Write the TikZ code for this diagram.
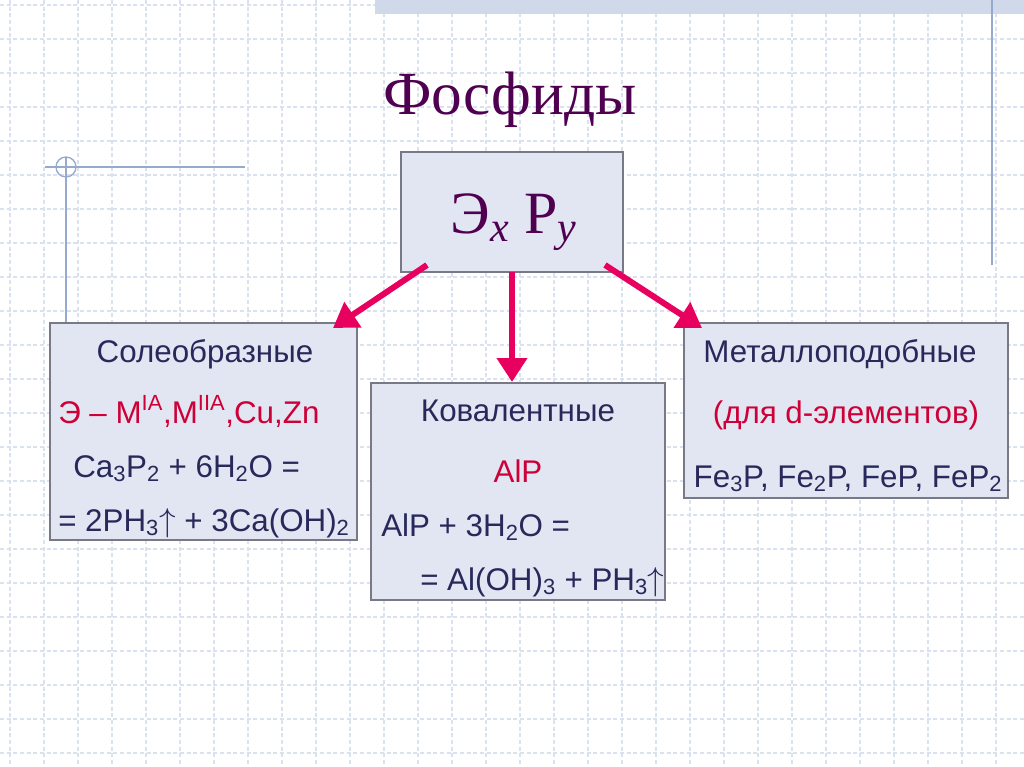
\documentclass[tikz,border=0pt]{standalone}
\usepackage{fontspec}
\setmainfont{Liberation Sans}
\newfontfamily\serifc{Liberation Serif}
\usetikzlibrary{arrows.meta}
\definecolor{gridc}{RGB}{218,226,240}
\definecolor{boxf}{RGB}{226,229,242}
\definecolor{boxd}{RGB}{120,120,135}
\definecolor{titc}{RGB}{80,0,80}
\definecolor{txtc}{RGB}{40,40,90}
\definecolor{redc}{RGB}{205,0,55}
\definecolor{arrc}{RGB}{232,0,95}
\definecolor{decc}{RGB}{150,170,205}
\tikzset{
  box/.style={draw=boxd,fill=boxf,line width=0.8pt},
  lbl/.style={text=txtc,font=\fontsize{23.5}{26}\selectfont,anchor=base west,inner sep=0},
  rlbl/.style={text=redc,font=\fontsize{23.5}{26}\selectfont,anchor=base west,inner sep=0},
  arr/.style={draw=arrc,line width=4.5pt,-{Triangle[length=18pt,width=22pt]}}
}
\begin{document}
\begin{tikzpicture}[x=0.75pt,y=-0.75pt]
\useasboundingbox (0,0) rectangle (1024,767);
\fill[white] (0,0) rectangle (1024,767);
\foreach \i in {0,...,30}{\draw[gridc,line width=0.8pt,densely dashed] (\i*34+10,0) -- (\i*34+10,767);}
\foreach \j in {0,...,23}{\draw[gridc,line width=0.8pt,densely dashed] (0,\j*34+5) -- (1024,\j*34+5);}
% decorations
\fill[decc!45] (375,0) rectangle (1024,14);
\draw[decc,line width=1pt] (992,0) -- (992,265);
\draw[decc,line width=1pt] (45,167) -- (245,167);
\draw[decc,line width=1pt] (66,157) -- (66,322);
\draw[decc,line width=1pt] (66,167) circle (10);
% title
\node[text=titc,font=\serifc\fontsize{46}{50}\selectfont] (title) at (510,100) {Фосфиды};
% boxes
\draw[box] (401,152) rectangle (623,272);
\node[text=titc,font=\serifc\fontsize{45}{50}\selectfont] (top) at (514,222) {Э\textsubscript{\textit{x}} P\textsubscript{\textit{y}}};
\draw[box] (50,323) rectangle (357,540);
\draw[box] (371,383) rectangle (665,600);
\draw[box] (684,323) rectangle (1008,498);
% left
\node[lbl,anchor=base] (l1) at (205,362) {Солеобразные};
\node[rlbl] (l2) at (58,423) {Э – M\textsuperscript{IA},M\textsuperscript{IIA},Cu,Zn};
\node[lbl] (l3) at (73,477) {Ca\textsubscript{3}P\textsubscript{2} + 6H\textsubscript{2}O =};
\node[lbl] (l4) at (58,531) {= 2PH\textsubscript{3}$\uparrow$ + 3Ca(OH)\textsubscript{2}};
% middle
\node[lbl,anchor=base] (m1) at (518,421) {Ковалентные};
\node[rlbl,anchor=base] (m2) at (518,482) {AlP};
\node[lbl] (m3) at (381,536) {AlP + 3H\textsubscript{2}O =};
\node[lbl] (m4) at (420,590) {= Al(OH)\textsubscript{3} + PH\textsubscript{3}$\uparrow$};
% right
\node[lbl,anchor=base] (r1) at (840,362) {Металлоподобные};
\node[rlbl,anchor=base] (r2) at (846,423) {(для d-элементов)};
\node[lbl,anchor=base] (r3) at (848,487) {Fe\textsubscript{3}P, Fe\textsubscript{2}P, FeP, FeP\textsubscript{2}};
% arrows
\coordinate (s1) at (427,265); \coordinate (e1) at (333,328);
\coordinate (s2) at (512,272); \coordinate (e2) at (512,382);
\coordinate (s3) at (605,265); \coordinate (e3) at (702,328);
\draw[arr] (s1) -- (e1);
\draw[arr] (s2) -- (e2);
\draw[arr] (s3) -- (e3);
\end{tikzpicture}
\end{document}
